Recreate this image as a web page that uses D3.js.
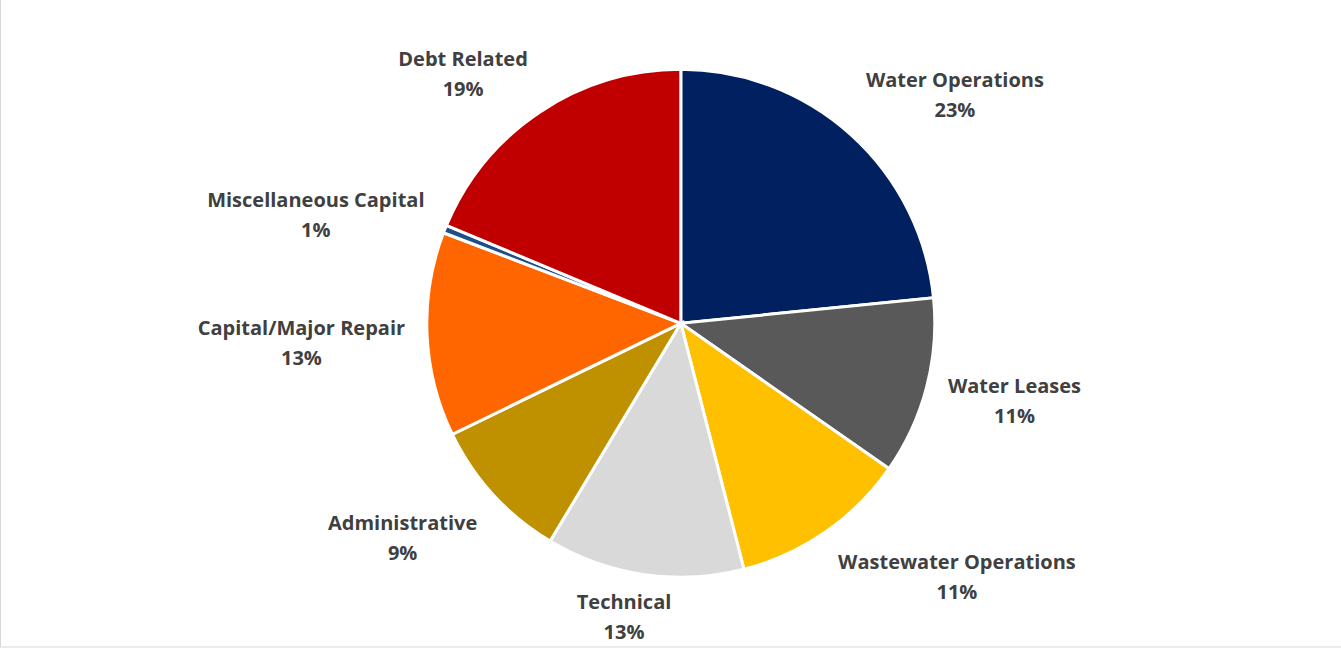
<!DOCTYPE html>
<html>
<head>
<meta charset="utf-8">
<script src="https://cdn.jsdelivr.net/npm/d3@7"></script>
<style>
  html, body { margin: 0; padding: 0; background: #fff; }
  svg { display: block; }
</style>
</head>
<body>
<svg id="chart" width="1341" height="649"></svg>
<script>
// Budget share by category, clockwise from 12 o'clock
const categories = [
  "Water Operations",
  "Water Leases",
  "Wastewater Operations",
  "Technical",
  "Administrative",
  "Capital/Major Repair",
  "Miscellaneous Capital",
  "Debt Related"
];
const shares = [23.4, 11.3, 11.3, 12.6, 9.2, 13.0, 0.5, 18.7];
const sliceColors = [
  "#002060", "#595959", "#FFC000", "#D9D9D9",
  "#BF9000", "#FF6600", "#1F4E8C", "#C00000"
];

const W = 1341, H = 649;
const cx = 680.8, cy = 323.3, radius = 254;
const svg = d3.select("#chart");

// frame
svg.append("rect")
  .attr("x", 0.5).attr("y", -5)
  .attr("width", W + 10).attr("height", 652)
  .attr("fill", "none")
  .attr("stroke", "#d9d9d9")
  .attr("stroke-width", 1);

const rows = categories.map((c, i) => ({ name: c, value: shares[i], color: sliceColors[i] }));
const total = d3.sum(shares);

const pie = d3.pie().sort(null).value(d => d.value);
const arc = d3.arc().innerRadius(0).outerRadius(radius);
const arcs = pie(rows);

const g = svg.append("g").attr("transform", `translate(${cx},${cy})`);

g.selectAll("path.slice")
  .data(arcs)
  .enter().append("path")
  .attr("class", "slice")
  .attr("d", arc)
  .attr("fill", d => d.data.color)
  .attr("stroke", "#ffffff")
  .attr("stroke-width", 3)
  .attr("stroke-linejoin", "miter");

// outside labels: an anchor sits just past the rim on the slice's mid-angle
// and the text block is hung off it so that the block clears the pie
const anchorR = 276;
const lineGap = 30;
const halfH = 26;
const clamp = v => Math.max(-1, Math.min(1, v));
const fontFamily = "'Open Sans', Lato, 'DejaVu Sans', sans-serif";

const labels = g.selectAll("g.label")
  .data(arcs)
  .enter().append("g")
  .attr("class", "label");

labels.each(function (d) {
  const sel = d3.select(this);
  const t = sel.append("text")
    .attr("text-anchor", "middle")
    .attr("font-family", fontFamily)
    .attr("font-weight", 700)
    .attr("font-size", 20)
    .attr("fill", "#404040");
  t.append("tspan").attr("x", 0).attr("y", -lineGap / 2)
    .attr("dominant-baseline", "central")
    .text(d.data.name);
  t.append("tspan").attr("x", 0).attr("y", lineGap / 2)
    .attr("dominant-baseline", "central")
    .text(Math.round(d.data.value / total * 100) + "%");

  const w = Math.max(...t.selectAll("tspan").nodes().map(n => n.getComputedTextLength()));
  const a = (d.startAngle + d.endAngle) / 2;
  const s = Math.sin(a), c = Math.cos(a);
  const ax = anchorR * s, ay = -anchorR * c;
  const lx = ax + clamp(s * 2.5) * w / 2;
  let ly = ay + clamp(-c * 1.25) * halfH;
  // labels on the left-hand side sit a little lower
  if (s < 0) ly += 6;
  // keep the block inside the chart area
  ly = Math.min(ly, H - 33 - cy);
  sel.attr("transform", `translate(${lx},${ly})`);
});
</script>
</body>
</html>
